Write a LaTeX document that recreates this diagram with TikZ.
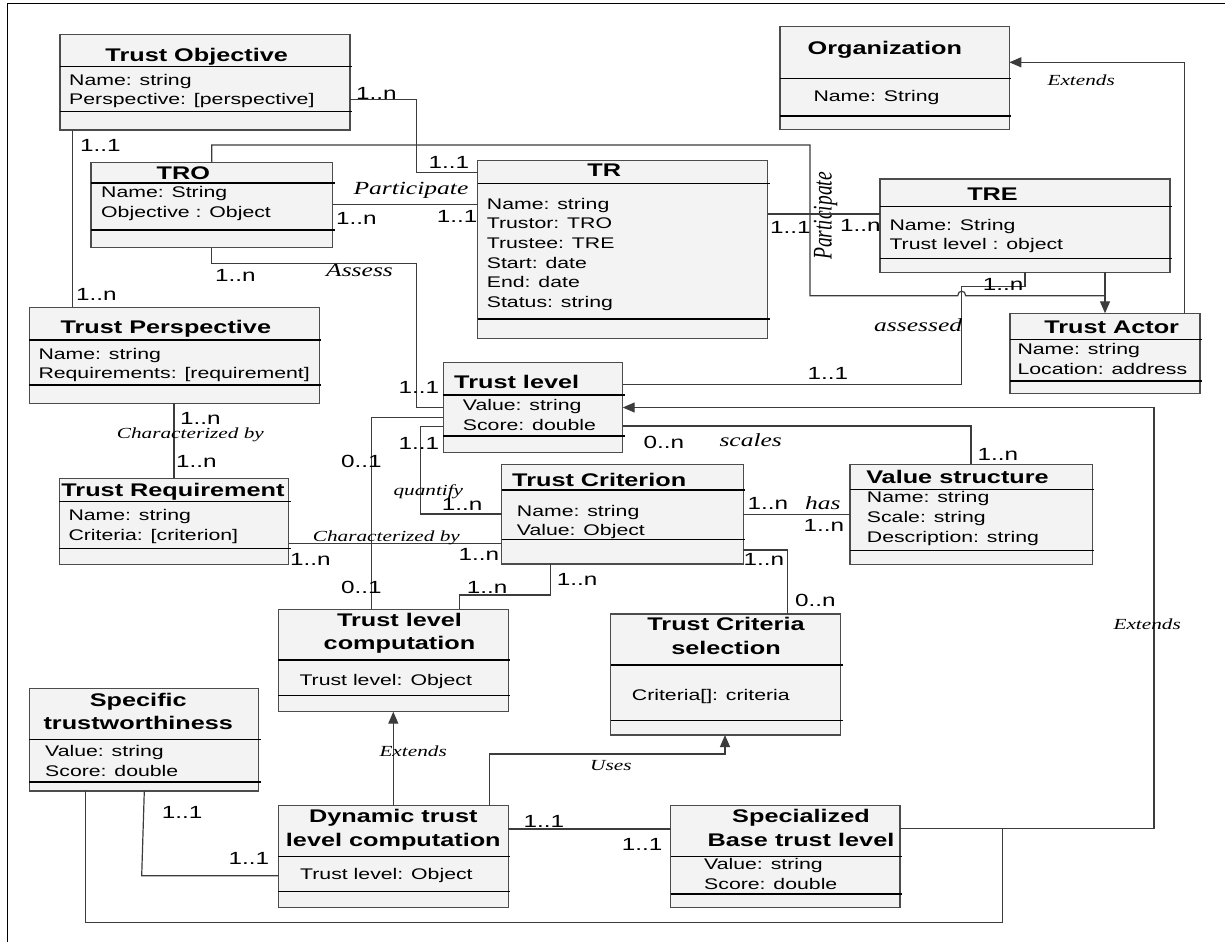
\documentclass[tikz,border=0pt]{standalone}
\usepackage{fontspec}
\usetikzlibrary{arrows.meta}
\newfontfamily\umlsans{Liberation Sans}[FakeStretch=1.38]
\newfontfamily\umlserif{Liberation Serif}[FakeStretch=1.38]
\newfontfamily\umlserifplain{Liberation Serif}
\definecolor{boxfill}{RGB}{243,243,243}
\definecolor{wirecol}{RGB}{60,60,60}

% class box: name, left, top, right, bottom, first separator, second separator
\newcommand\umlclass[7]{%
  \pgfmathsetmacro\boxw{#4-#2}%
  \pgfmathsetmacro\boxh{#5-#3}%
  \node[classrect, minimum width=\boxw pt, minimum height=\boxh pt] (#1) at ({(#2+#4)/2},{(#3+#5)/2}) {};
  \draw[sepline] (#2,#6) -- ({#4+2},#6) (#2,#7) -- ({#4+2},#7);
}

\tikzset{
  classrect/.style={draw=black!70, fill=boxfill, line width=1.2pt, inner sep=0pt, outer sep=0pt},
  sepline/.style={black, line width=1.3pt},
  wire/.style={draw=wirecol, line width=1.2pt},
  genarrow/.style={-{Triangle[length=12pt,width=10pt]}},
  ctitle/.style={font=\umlsans\bfseries\fontsize{18.3}{22}\selectfont, anchor=base, inner sep=0pt},
  cattr/.style={font=\umlsans\fontsize{15.4}{19}\selectfont, anchor=base west, inner sep=0pt},
  mult/.style={font=\umlsans\fontsize{17.6}{20}\selectfont, anchor=base west, inner sep=0pt},
  rolesm/.style={font=\umlserif\itshape\fontsize{15.4}{18}\selectfont, anchor=base west, inner sep=0pt},
  rolebig/.style={font=\umlserif\itshape\fontsize{18.5}{20}\selectfont, anchor=base west, inner sep=0pt},
}

\begin{document}
\begin{tikzpicture}[x=1pt, y=-1pt]
\useasboundingbox (0,0) rectangle (1225,942);
\fill[white] (0,0) rectangle (1225,942);

% frame
\draw[black, line width=1pt] (7,942) -- (7,3.5) -- (1225,3.5);

% ---------- classes ----------
\umlclass{tobj}{60}{34.3}{350}{130}{66.7}{111.7}
\umlclass{tro}{91}{162.7}{332.7}{247.7}{183}{230}
\umlclass{tr}{477.7}{160.7}{767.7}{338.3}{183.3}{319}
\umlclass{tre}{880}{179}{1170}{272.3}{206.7}{258.3}
\umlclass{org}{780}{26.7}{1009.3}{129.3}{78.3}{116}
\umlclass{actor}{1010}{313.3}{1200}{393.3}{339.3}{381}
\umlclass{tpersp}{29.3}{307.3}{319.3}{403.3}{340}{385}
\umlclass{treq}{59.3}{478.3}{288.7}{564.3}{501.7}{548.3}
\umlclass{tlevel}{443.3}{362.3}{622.7}{452.7}{395}{436}
\umlclass{tcrit}{501.7}{464.3}{743.3}{564}{490}{539.3}
\umlclass{vstruct}{850}{464.3}{1092.3}{564.3}{489.3}{550.7}
\umlclass{tlcomp}{278.3}{609.3}{508.3}{711.7}{660}{695.7}
\umlclass{tcsel}{610.7}{614}{840.7}{735}{665}{720.7}
\umlclass{spec}{29.3}{688.3}{258.7}{791}{739.3}{782}
\umlclass{dyn}{278.3}{805.7}{508.3}{907.3}{856.7}{891.7}
\umlclass{sbase}{670.7}{805.7}{900}{907.3}{856.7}{894}

% ---------- class texts ----------
\node[ctitle] (tobjT) at (196.7,61.7) {Trust Objective};
\node[cattr] (tobjA1) at (69,85) {Name: string};
\node[cattr] (tobjA2) at (69,104.3) {Perspective: [perspective]};

\node[ctitle] (troT) at (183.3,179) {TRO};
\node[cattr] (troA1) at (101,197.7) {Name: String};
\node[cattr] (troA2) at (101,217.3) {Objective : Object};

\node[ctitle] (trT) at (604.2,176.7) {TR};
\node[cattr] (trA1) at (486.7,209.3) {Name: string};
\node[cattr] (trA2) at (486.7,228.9) {Trustor: TRO};
\node[cattr] (trA3) at (486.7,248.5) {Trustee: TRE};
\node[cattr] (trA4) at (486.7,268.1) {Start: date};
\node[cattr] (trA5) at (486.7,287.7) {End: date};
\node[cattr] (trA6) at (486.7,307.3) {Status: string};

\node[ctitle] (treT) at (992.5,200) {TRE};
\node[cattr] (treA1) at (889.3,230) {Name: String};
\node[cattr] (treA2) at (889.3,249.7) {Trust level : object};

\node[ctitle] (orgT) at (884.8,55) {Organization};
\node[cattr] (orgA1) at (813.3,101) {Name: String};

\node[ctitle] (actorT) at (1111.7,333.3) {Trust Actor};
\node[cattr] (actorA1) at (1017.3,354) {Name: string};
\node[cattr] (actorA2) at (1017.3,374) {Location: address};

\node[ctitle] (tperspT) at (165.8,333.3) {Trust Perspective};
\node[cattr] (tperspA1) at (38.3,359) {Name: string};
\node[cattr] (tperspA2) at (38.3,378.3) {Requirements: [requirement]};

\node[ctitle] (treqT) at (173,496.7) {Trust Requirement};
\node[cattr] (treqA1) at (68.3,520.7) {Name: string};
\node[cattr] (treqA2) at (68.3,540.7) {Criteria: [criterion]};

\node[ctitle] (tlevelT) at (516.7,388.3) {Trust level};
\node[cattr] (tlevelA1) at (462.7,410.7) {Value: string};
\node[cattr] (tlevelA2) at (462.7,430) {Score: double};

\node[ctitle] (tcritT) at (599.2,486.7) {Trust Criterion};
\node[cattr] (tcritA1) at (516.7,516) {Name: string};
\node[cattr] (tcritA2) at (516.7,535) {Value: Object};

\node[ctitle] (vstructT) at (957.5,483.3) {Value structure};
\node[cattr] (vstructA1) at (866.7,502.7) {Name: string};
\node[cattr] (vstructA2) at (866.7,522.7) {Scale: string};
\node[cattr] (vstructA3) at (866.7,542.7) {Description: string};

\node[ctitle] (tlcompT1) at (399.5,626.7) {Trust level};
\node[ctitle] (tlcompT2) at (399.5,649.3) {computation};
\node[cattr] (tlcompA1) at (299.3,685) {Trust level: Object};

\node[ctitle] (tcselT1) at (726,630.7) {Trust Criteria};
\node[ctitle] (tcselT2) at (726,654) {selection};
\node[cattr] (tcselA1) at (631.7,700) {Criteria[]: criteria};

\node[ctitle] (specT1) at (138.3,706) {Specific};
\node[ctitle] (specT2) at (138.3,729.3) {trustworthiness};
\node[cattr] (specA1) at (45,756.7) {Value: string};
\node[cattr] (specA2) at (45,776) {Score: double};

\node[ctitle] (dynT1) at (393.3,822.7) {Dynamic trust};
\node[ctitle] (dynT2) at (393.3,846) {level computation};
\node[cattr] (dynA1) at (300,879.3) {Trust level: Object};

\node[ctitle] (sbaseT1) at (801,822.7) {Specialized};
\node[ctitle] (sbaseT2) at (801,846.7) {Base trust level};
\node[cattr] (sbaseA1) at (704,869.3) {Value: string};
\node[cattr] (sbaseA2) at (704,889.3) {Score: double};

% ---------- connectors ----------
% Trust Objective -- TR
\draw[wire] (tobj.east |- 0,99.3) -- (416.7,99.3) -- (416.7,172.3) -- (tr.west |- 0,172.3);
\node[mult] (mA1) at (356,99) {1..n};
\node[mult] (mA2) at (428.3,168.3) {1..1};

% Trust Objective -- Trust Perspective
\draw[wire] (tobj.south -| 72.7,0) -- (tpersp.north -| 72.7,0);
\node[mult] (mB1) at (80,151.7) {1..1};
\node[mult] (mB2) at (76,300) {1..n};

% TRO -- Trust Actor (over the top, with a hop)
\draw[wire] (tro.north -| 211.7,0) -- (211.7,145) -- (810,145) -- (810,295.7) -- (957.7,295.7)
  .. controls (957.7,289.7) and (965.7,289.7) .. (965.7,295.7) -- (1105,295.7);
\node[rotate=90, inner sep=0pt, font=\umlserifplain\itshape\fontsize{19.5}{20}\selectfont] (rPart2) at (825.5,216) {\scalebox{1}[1.38]{Participate}};

% TRE -- Trust Actor
\draw[wire, genarrow] (tre.south -| 1105,0) -- (actor.north -| 1105,0);

% Trust Actor -- Organization
\draw[wire, genarrow] (actor.north -| 1184.3,0) -- (1184.3,62.3) -- (org.east |- 0,62.3);
\node[rolesm] (rExt1) at (1047.3,85.7) {Extends};

% TRO -- TR
\draw[wire] (tro.east |- 0,204.3) -- (tr.west |- 0,204.3);
\node[rolebig] (rPart1) at (353.3,194.3) {Participate};
\node[mult] (mD1) at (336,224) {1..n};
\node[mult] (mD2) at (436.7,222.7) {1..1};

% TR -- TRE
\draw[wire] (tr.east |- 0,214) -- (tre.west |- 0,214);
\node[mult] (mE1) at (770,233.3) {1..1};
\node[mult] (mE2) at (840,231.7) {1..n};

% Trust level -- TRE (assessed)
\draw[wire] (tlevel.east |- 0,384.3) -- (961.7,384.3) -- (961.7,286.7) -- (1025,286.7) -- (tre.south -| 1025,0);
\node[mult] (mF1) at (982.7,290.5) {1..n};
\node[mult] (mF2) at (807.3,379.3) {1..1};
\node[rolebig] (rAssd) at (874,331.7) {assessed};

% TRO -- Trust level (Assess)
\draw[wire] (tro.south -| 211.7,0) -- (211.7,263.3) -- (416.7,263.3) -- (416.7,407.7) -- (tlevel.west |- 0,407.7);
\node[mult] (mG1) at (215,281) {1..n};
\node[rolebig] (rAssess) at (326,276) {Assess};
\node[mult] (mG2) at (398.3,393.3) {1..1};

% Trust level -- Trust level computation
\draw[wire] (tlevel.west |- 0,417.7) -- (371.7,417.7) -- (tlcomp.north -| 371.7,0);
\node[mult] (mH1) at (341,467.3) {0..1};
\node[mult] (mH2) at (341,593.3) {0..1};

% Trust level -- Trust Criterion (quantify)
\draw[wire] (tlevel.west |- 0,426.7) -- (420.7,426.7) -- (420.7,514) -- (tcrit.west |- 0,514);
\node[mult] (mI1) at (398.3,449) {1..1};
\node[rolesm] (rQuant) at (393.3,495.5) {quantify};
\node[mult] (mI2) at (441.7,510) {1..n};

% Trust Perspective -- Trust Requirement
\draw[wire] (tpersp.south -| 174,0) -- (treq.north -| 174,0);
\node[mult] (mJ1) at (180,424) {1..n};
\node[rolesm] (rChar1) at (116.7,438.3) {Characterized by};
\node[mult] (mJ2) at (176,467.3) {1..n};

% Trust Requirement -- Trust Criterion
\draw[wire] (treq.east |- 0,543.3) -- (tcrit.west |- 0,543.3);
\node[rolesm] (rChar2) at (312.7,541.7) {Characterized by};
\node[mult] (mK1) at (290,565.7) {1..n};
\node[mult] (mK2) at (458.3,560) {1..n};

% Trust Criterion -- Trust level computation
\draw[wire] (tcrit.south -| 550.7,0) -- (550.7,595) -- (459.3,595) -- (tlcomp.north -| 459.3,0);
\node[mult] (mL1) at (556.7,585) {1..n};
\node[mult] (mL2) at (466.7,593.5) {1..n};

% Trust level -- Value structure (scales)
\draw[wire] (tlevel.east |- 0,426) -- (971,426) -- (vstruct.north -| 971,0);
\node[mult] (mM1) at (643.3,448.3) {0..n};
\node[rolebig] (rScales) at (719.3,446.7) {scales};
\node[mult] (mM2) at (977.3,460.7) {1..n};

% Trust Criterion -- Value structure (has)
\draw[wire] (tcrit.east |- 0,514.3) -- (vstruct.west |- 0,514.3);
\node[mult] (mN1) at (747.3,509.3) {1..n};
\node[rolebig] (rHas) at (805,509.3) {has};
\node[mult] (mN2) at (803.3,531.7) {1..n};

% Trust Criterion -- Trust Criteria selection
\draw[wire] (tcrit.east |- 0,550) -- (787.3,550) -- (tcsel.north -| 787.3,0);
\node[mult] (mO1) at (743.3,565) {1..n};
\node[mult] (mO2) at (795,606.7) {0..n};

% Dynamic -- Trust level computation (Extends)
\draw[wire, genarrow] (dyn.north -| 393.3,0) -- (tlcomp.south -| 393.3,0);
\node[rolesm] (rExt2) at (379.3,756.7) {Extends};

% Dynamic -- Trust Criteria selection (Uses)
\draw[wire, genarrow] (dyn.north -| 489.3,0) -- (489.3,754) -- (725,754) -- (tcsel.south -| 725,0);
\node[rolesm] (rUses) at (590,770) {Uses};

% Dynamic -- Specialized Base trust level
\draw[wire] (dyn.east |- 0,829) -- (sbase.west |- 0,829);
\node[mult] (mP1) at (523.3,827.7) {1..1};
\node[mult] (mP2) at (621.7,850.7) {1..1};

% Specific trustworthiness -- Dynamic
\draw[wire] (spec.south -| 144.3,0) -- (141.7,875.7) -- (dyn.west |- 0,875.7);
\node[mult] (mQ1) at (161.7,818.3) {1..1};
\node[mult] (mQ2) at (228.3,864.3) {1..1};

% Specialized Base trust level -- Trust level (Extends)
\draw[wire, genarrow] (sbase.east |- 0,828.3) -- (1154,828.3) -- (1154,407.5) -- (tlevel.east |- 0,407.5);
\node[rolesm] (rExt3) at (1113.3,629.3) {Extends};

% Specific trustworthiness -- joins the Extends line
\coordinate (joinS) at (1002.7,828.3);
\draw[wire] (spec.south -| 85.7,0) -- (85.7,922.7) -- (1002.7,922.7) -- (joinS);
\end{tikzpicture}
\end{document}
